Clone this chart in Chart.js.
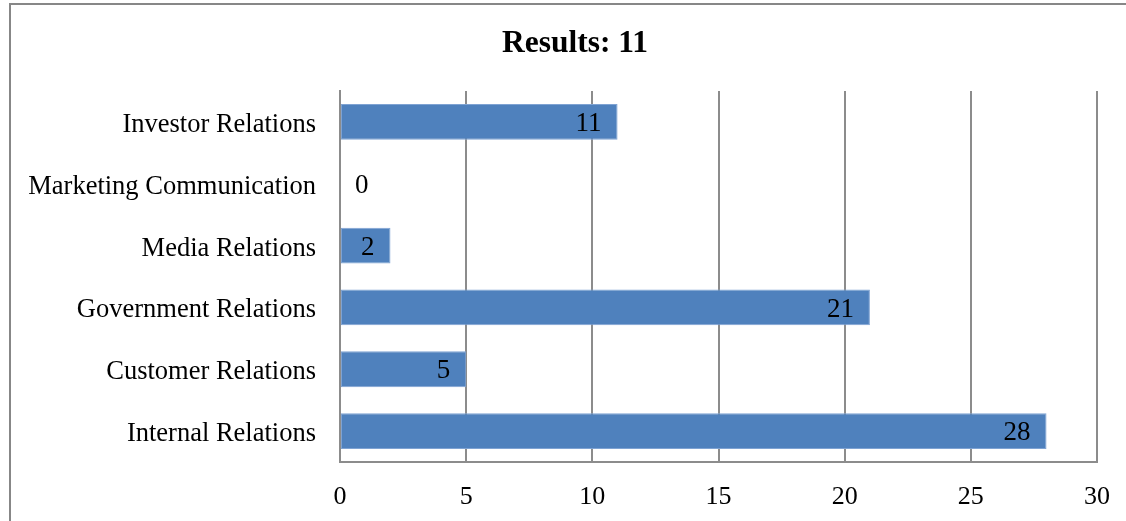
<!DOCTYPE html>
<html>
<head>
<meta charset="utf-8">
<script src="https://cdn.jsdelivr.net/npm/chart.js@4/dist/chart.umd.min.js"></script>
<style>
  html, body { margin: 0; padding: 0; background: #fff; overflow: hidden; }
  #frame {
    position: absolute; left: 9px; top: 3px;
    width: 1130px; height: 530px;
    border-top: 2px solid #878787; border-left: 2px solid #878787;
    background: #fff;
  }
  #wrap { position: absolute; left: 0; top: 0; width: 1128px; height: 515px; }
</style>
</head>
<body>
<div id="frame"><div id="wrap"><canvas id="c"></canvas></div></div>
<script>
const categories = [
  "Investor Relations",
  "Marketing Communication",
  "Media Relations",
  "Government Relations",
  "Customer Relations",
  "Internal Relations"
];
const counts = [11, 0, 2, 21, 5, 28];
const xTicks = [0, 5, 10, 15, 20, 25, 30];
const titleText = "Results: 11";

const SERIF = "'Liberation Serif', 'Times New Roman', serif";
const GRID = "#8c8c8c";

// heading centred across the full canvas width (not just the padded box)
const centredTitle = {
  id: "centredTitle",
  afterDraw(chart) {
    const ctx = chart.ctx;
    ctx.save();
    ctx.font = "bold 31.5px " + SERIF;
    ctx.fillStyle = "#000";
    ctx.textAlign = "center";
    ctx.textBaseline = "middle";
    ctx.fillText(titleText, chart.width / 2, 39);
    ctx.restore();
  }
};

// value labels placed just inside the bar end (outside when the bar is empty)
const valueLabels = {
  id: "valueLabels",
  afterDatasetsDraw(chart) {
    const ctx = chart.ctx;
    const meta = chart.getDatasetMeta(0);
    ctx.save();
    ctx.font = "27px " + SERIF;
    ctx.fillStyle = "#000";
    ctx.textBaseline = "middle";
    meta.data.forEach((bar, i) => {
      const v = counts[i];
      if (v > 0) {
        ctx.textAlign = "right";
        ctx.fillText(String(v), bar.x - 16, bar.y + 2);
      } else {
        ctx.textAlign = "left";
        ctx.fillText(String(v), bar.base + 15, bar.y + 2);
      }
    });
    ctx.restore();
  }
};

new Chart(document.getElementById("c"), {
  type: "bar",
  data: {
    labels: categories,
    datasets: [{
      data: counts,
      backgroundColor: "#4F81BD",
      borderColor: "#7fa3d3",
      borderWidth: 1,
      borderSkipped: false,
      categoryPercentage: 1,
      barPercentage: 0.58
    }]
  },
  options: {
    indexAxis: "y",
    responsive: true,
    maintainAspectRatio: false,
    animation: false,
    devicePixelRatio: 1,
    layout: { padding: { left: 0, right: 42, top: 86, bottom: 0 } },
    plugins: {
      legend: { display: false },
      tooltip: { enabled: false },
      title: { display: false }
    },
    scales: {
      x: {
        min: 0, max: 30,
        afterBuildTicks(scale) { scale.ticks = xTicks.map(v => ({ value: v })); },
        afterFit(scale) { scale.height = 58; },
        grid: { display: true, color: GRID, lineWidth: 2, drawTicks: false },
        border: { display: true, color: GRID, width: 2 },
        ticks: {
          color: "#000",
          font: { family: SERIF, size: 26 },
          padding: 20,
          maxRotation: 0
        }
      },
      y: {
        afterFit(scale) { scale.width = 329; },
        grid: { display: false, drawTicks: false },
        border: { display: true, color: GRID, width: 2 },
        ticks: {
          color: "#000",
          font: { family: SERIF, size: 26.5 },
          padding: 24,
          labelOffset: 3
        }
      }
    }
  },
  plugins: [valueLabels, centredTitle]
});
</script>
</body>
</html>
